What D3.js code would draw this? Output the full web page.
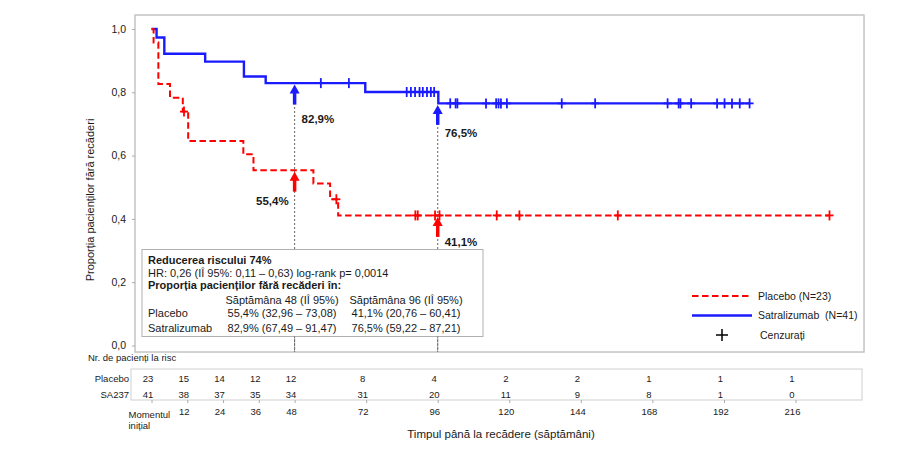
<!DOCTYPE html>
<html><head><meta charset="utf-8">
<script src="https://cdn.jsdelivr.net/npm/d3@7"></script>
<style>
body{margin:0;background:#fff;}
svg{font-family:"Liberation Sans",Arial,sans-serif;}
</style></head><body>
<svg id="c" width="920" height="451"></svg>
<script>
// ---- data ----
const yTicks = [0, 0.2, 0.4, 0.6, 0.8, 1.0];
const xTicks = [0, 12, 24, 36, 48, 72, 96, 120, 144, 168, 192, 216];
const placeboTimes = [0, 0.7, 2.3, 6.2, 10.5, 12.3, 30.8, 34.2, 54.3, 59.9, 62.6];
const placeboSurv  = [1, 0.957, 0.826, 0.783, 0.739, 0.646, 0.604, 0.554, 0.512, 0.462, 0.411];
const placeboCensor = [10.9, 62.0, 88.5, 89.3, 95.1, 96.6, 115.8, 123.4, 156.4, 227.4];
const satraTimes = [0, 1.7, 4.3, 18, 31, 38.3, 71.7, 96.2];
const satraSurv  = [1, 0.973, 0.922, 0.897, 0.850, 0.829, 0.801, 0.765];
const satraCensor = [56.8, 66.2, 85.6, 87, 88.4, 89.9, 91, 92.4, 93.7, 94.8, 100.2, 102, 102.6, 112.2, 115.6, 116.4, 117.2, 119.2, 137.6, 148.8, 173.1, 176.8, 177.4, 181, 189.7, 192.2, 194.7, 197.3, 200.6];
const riskPlacebo = [23, 15, 14, 12, 12, 8, 4, 2, 2, 1, 1, 1];
const riskSatra   = [41, 38, 37, 35, 34, 31, 20, 11, 9, 8, 1, 0];
const marks = [
  {t: 48, v: 0.829, label: "82,9%", series: "satra"},
  {t: 96, v: 0.765, label: "76,5%", series: "satra"},
  {t: 48, v: 0.554, label: "55,4%", series: "placebo"},
  {t: 96, v: 0.411, label: "41,1%", series: "placebo"}
];
const tableHeader = ["Săptămâna 48 (IÎ 95%)", "Săptămâna 96 (IÎ 95%)"];
const tableRows = [
  ["Placebo", "55,4% (32,96 – 73,08)", "41,1% (20,76 – 60,41)"],
  ["Satralizumab", "82,9% (67,49 – 91,47)", "76,5% (59,22 – 87,21)"]
];

// ---- layout ----
const RED = "#ff0000", BLUE = "#1a1aff", TXT = "#1a1a1a";
const svg = d3.select("#c");
const x = d3.scaleLinear().domain([0, 216]).range([151.5, 795.5]);
const y = d3.scaleLinear().domain([0, 1]).range([345.5, 29]);
const frame = {x0: 135, y0: 15, x1: 864, y1: 352};

svg.append("rect").attr("x", frame.x0).attr("y", frame.y0)
  .attr("width", frame.x1 - frame.x0).attr("height", frame.y1 - frame.y0)
  .attr("fill", "none").attr("stroke", "#c4c4c4").attr("stroke-width", 1.5);

const yAxis = svg.append("g").attr("transform", `translate(${frame.x0},0)`)
  .call(d3.axisLeft(y).tickValues(yTicks).tickSize(3).tickPadding(6)
    .tickFormat(d => d3.format(".1f")(d).replace(".", ",")));
yAxis.select(".domain").remove();
yAxis.selectAll("line").attr("stroke", "#aaa");
yAxis.selectAll("text").attr("font-size", 10.5).attr("fill", TXT)
  .attr("font-family", '"Liberation Sans",Arial,sans-serif');

svg.append("text").attr("transform", "translate(94,200) rotate(-90)")
  .attr("text-anchor", "middle").attr("font-size", 11).attr("fill", TXT)
  .text("Proporția pacienților fără recăderi");

// reference dashed lines
[48, 96].forEach(t => {
  const top = t === 48 ? 107 : 123;
  svg.append("line").attr("x1", x(t)).attr("x2", x(t)).attr("y1", top).attr("y2", frame.y1)
    .attr("stroke", "#666").attr("stroke-width", 1).attr("stroke-dasharray", "2,2");
});

// step curves
function stepPts(times, surv, end) {
  const pts = times.map((t, i) => [t, surv[i]]);
  pts.push([end, surv[surv.length - 1]]);
  return pts;
}
const line = d3.line().x(d => x(d[0])).y(d => y(d[1])).curve(d3.curveStepAfter);
function survAt(times, surv, t) {
  let v = surv[0];
  for (let i = 0; i < times.length; i++) if (times[i] <= t) v = surv[i];
  return v;
}
function drawSeries(times, surv, cens, color, dash, width) {
  const end = d3.max(cens);
  svg.append("path").datum(stepPts(times, surv, end)).attr("d", line)
    .attr("fill", "none").attr("stroke", color).attr("stroke-width", width)
    .attr("stroke-dasharray", dash);
  const g = svg.append("g");
  cens.forEach(t => {
    const cx = x(t), cy = y(survAt(times, surv, t));
    g.append("line").attr("x1", cx).attr("x2", cx).attr("y1", cy - 5).attr("y2", cy + 5)
      .attr("stroke", color).attr("stroke-width", 1.8);
    g.append("line").attr("x1", cx - 4).attr("x2", cx + 4).attr("y1", cy).attr("y2", cy)
      .attr("stroke", color).attr("stroke-width", 1.8);
  });
}
drawSeries(satraTimes, satraSurv, satraCensor, BLUE, null, 2.4);
drawSeries(placeboTimes, placeboSurv, placeboCensor, RED, "6.5,3.5", 2);

// arrows + labels
marks.forEach(m => {
  const color = m.series === "satra" ? BLUE : RED;
  const tipY = y(m.v) + 1.5, baseY = tipY + 20, cx = x(m.t);
  svg.append("line").attr("x1", cx).attr("x2", cx).attr("y1", tipY + 7).attr("y2", baseY)
    .attr("stroke", color).attr("stroke-width", 3.5);
  svg.append("path").attr("d", `M${cx},${tipY} L${cx - 5},${tipY + 9} L${cx + 5},${tipY + 9} Z`)
    .attr("fill", color);
  const left = m.t === 48 && m.series === "placebo";
  svg.append("text").attr("x", left ? cx - 6 : cx + 7)
    .attr("y", m.series === "satra" ? baseY + 18 - (m.t === 96 ? 6 : 0) : baseY + 13 - (m.t === 96 ? 4 : 0))
    .attr("text-anchor", left ? "end" : "start").attr("font-size", 11.5).attr("font-weight", "bold")
    .attr("fill", TXT).text(m.label);
});

// stats box
const bx = 142, by = 249.5, bw = 341, bh = 87;
svg.append("rect").attr("x", bx).attr("y", by).attr("width", bw).attr("height", bh)
  .attr("fill", "#fff").attr("stroke", "#b0b0b0").attr("stroke-width", 1);
[48, 96].forEach(t => {
  svg.append("line").attr("x1", x(t)).attr("x2", x(t)).attr("y1", by + bh).attr("y2", frame.y1)
    .attr("stroke", "#666").attr("stroke-width", 1).attr("stroke-dasharray", "2,2");
});
const bt = svg.append("g").attr("font-size", 11).attr("fill", TXT);
bt.append("text").attr("x", 148).attr("y", 264).attr("font-weight", "bold").text("Reducerea riscului 74%");
bt.append("text").attr("x", 148).attr("y", 277).text("HR: 0,26 (IÎ 95%: 0,11 – 0,63) log-rank p= 0,0014");
bt.append("text").attr("x", 148).attr("y", 289).attr("font-weight", "bold").text("Proporția pacienților fără recăderi în:");
const colX = [282, 406];
tableHeader.forEach((h, i) => bt.append("text").attr("x", colX[i]).attr("y", 304)
  .attr("text-anchor", "middle").text(h));
tableRows.forEach((r, j) => {
  const yy = 316.5 + j * 15;
  bt.append("text").attr("x", 148).attr("y", yy).text(r[0]);
  bt.append("text").attr("x", colX[0]).attr("y", yy).attr("text-anchor", "middle").text(r[1]);
  bt.append("text").attr("x", colX[1]).attr("y", yy).attr("text-anchor", "middle").text(r[2]);
});

// legend
const lg = svg.append("g").attr("font-size", 10.5).attr("fill", TXT);
lg.append("line").attr("x1", 692).attr("x2", 752).attr("y1", 296).attr("y2", 296)
  .attr("stroke", RED).attr("stroke-width", 2).attr("stroke-dasharray", "6.5,3.5");
lg.append("text").attr("x", 758).attr("y", 299.5).text("Placebo (N=23)");
lg.append("line").attr("x1", 692).attr("x2", 752).attr("y1", 315.5).attr("y2", 315.5)
  .attr("stroke", BLUE).attr("stroke-width", 2.4);
lg.append("text").attr("x", 758).attr("y", 319).style("white-space", "pre").text("Satralizumab  (N=41)");
lg.append("line").attr("x1", 716).attr("x2", 728).attr("y1", 335).attr("y2", 335).attr("stroke", "#000").attr("stroke-width", 1.5);
lg.append("line").attr("x1", 722).attr("x2", 722).attr("y1", 329).attr("y2", 341).attr("stroke", "#000").attr("stroke-width", 1.5);
lg.append("text").attr("x", 760).attr("y", 338.5).text("Cenzurați");

// risk table
const rt = svg.append("g").attr("font-size", 9.5).attr("fill", TXT);
rt.append("text").attr("x", 88).attr("y", 361).text("Nr. de pacienți la risc");
svg.append("rect").attr("x", 131).attr("y", 369).attr("width", 731).attr("height", 31)
  .attr("fill", "none").attr("stroke", "#cfcfcf").attr("stroke-width", 1);
rt.append("text").attr("x", 129).attr("y", 382).attr("text-anchor", "end").text("Placebo");
rt.append("text").attr("x", 129).attr("y", 397.5).attr("text-anchor", "end").text("SA237");
xTicks.forEach((t, i) => {
  rt.append("text").attr("x", x(t) - 3.5).attr("y", 382).attr("text-anchor", "middle").text(riskPlacebo[i]);
  rt.append("text").attr("x", x(t) - 3.5).attr("y", 397.5).attr("text-anchor", "middle").text(riskSatra[i]);
});
const xAxis = svg.append("g").attr("transform", "translate(0,400)")
  .call(d3.axisBottom(x).tickValues(xTicks).tickSize(3).tickPadding(5)
    .tickFormat(d => d === 0 ? "" : d));
xAxis.select(".domain").remove();
xAxis.selectAll("line").attr("stroke", "#aaa");
xAxis.selectAll("text").attr("font-size", 9.5).attr("fill", TXT).attr("dx", -3.5)
  .attr("font-family", '"Liberation Sans",Arial,sans-serif');
rt.append("text").attr("x", x(0) - 23).attr("y", 417.5).text("Momentul");
rt.append("text").attr("x", x(0) - 23).attr("y", 429).text("inițial");
svg.append("text").attr("x", 501).attr("y", 438).attr("text-anchor", "middle")
  .attr("font-size", 11.5).attr("fill", TXT).text("Timpul până la recădere (săptămâni)");
</script>
</body></html>
